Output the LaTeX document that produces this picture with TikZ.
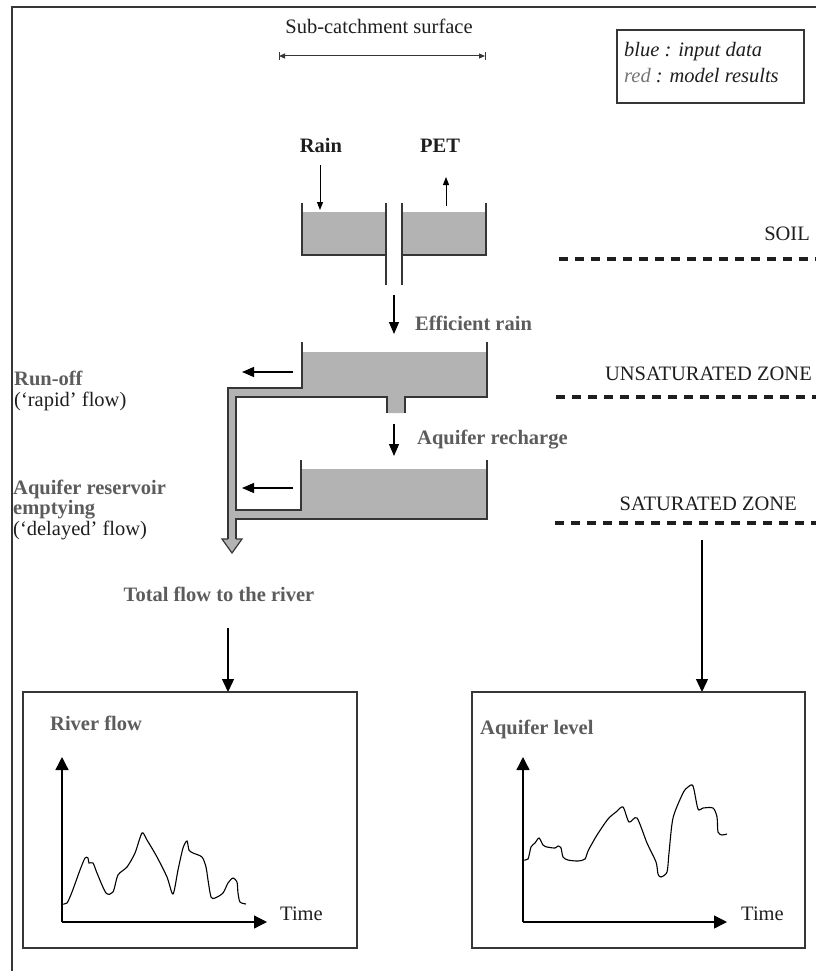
\documentclass[tikz,border=0pt]{standalone}
\usepackage{fontspec}
\setmainfont{Liberation Serif}
\usetikzlibrary{arrows.meta}
\definecolor{water}{HTML}{B3B3B3}
\definecolor{edge}{HTML}{363636}
\definecolor{lbl}{HTML}{5C5C5C}
\definecolor{ink}{HTML}{1E1E1E}
\begin{document}
\begin{tikzpicture}[x=1pt,y=-1pt,
  every node/.style={inner sep=0pt, text=ink, font=\fontsize{20.5}{21}\selectfont},
  lab/.style={text=lbl, font=\fontsize{20.5}{21}\selectfont\bfseries},
  darklab/.style={text=ink, font=\fontsize{20.5}{21}\selectfont\bfseries},
  frameline/.style={draw=edge, line width=1.6pt},
  tankline/.style={draw=edge, line width=1.3pt},
  flowarrow/.style={draw=black, line width=1.2pt, -{Triangle[width=10pt,length=12pt]}},
  smallarrow/.style={draw=black, line width=1pt, -{Triangle[width=6pt,length=8pt]}},
  bigarrow/.style={draw=black, line width=1.3pt, -{Triangle[width=12pt,length=13pt]}},
  axis/.style={draw=black, line width=1.3pt, -{Triangle[width=13pt,length=13pt]}},
  curve/.style={draw=black, line width=1.1pt},
  zoneline/.style={draw=ink, line width=3.6pt, dash pattern=on 9pt off 7pt},
  panel/.style={draw=edge, line width=1.4pt},
]
\useasboundingbox (0,0) rectangle (816,971);

% outer frame (left and top edges)
\draw[frameline] (12,971) -- (12,7) -- (816,7);

% sub-catchment width
\node[anchor=base] (subtitle) at (379,34) {Sub-catchment surface};
\coordinate (dimL) at (279,56);
\coordinate (dimR) at (485,56);
\draw[draw=edge, line width=1pt, {Triangle[width=5pt,length=6pt]}-{Triangle[width=5pt,length=6pt]}] (dimL) -- (dimR);
\draw[draw=edge, line width=1pt] (dimL) ++(0,-4) -- ++(0,8);
\draw[draw=edge, line width=1pt] (dimR) ++(0,-4) -- ++(0,8);

% legend
\draw[panel] (617,30) rectangle (804,103);
\node[anchor=base west, font=\fontsize{20.5}{21}\selectfont\itshape] (legblue) at (624,57) {blue : input data};
\node[anchor=base west, font=\fontsize{20.5}{21}\selectfont\itshape] (legred) at (624,83) {\textcolor{lbl!85}{red} : model results};

% zone labels and boundaries
\node[anchor=base east] (soil) at (810,240) {SOIL};
\draw[zoneline] (559,259) -- (816,259);
\node[anchor=base east] (unsat) at (812,380) {UNSATURATED ZONE};
\draw[zoneline] (556,397) -- (816,397);
\node[anchor=base east] (sat) at (797,510) {SATURATED ZONE};
\draw[zoneline] (555,523) -- (816,523);

% soil reservoir
\node[darklab, anchor=base] (rain) at (321,153) {Rain};
\node[darklab, anchor=base] (pet) at (440,153) {PET};
\fill[water] (302,212) rectangle (386,255);
\fill[water] (402,212) rectangle (486,255);
\draw[tankline] (302,203) -- (302,255) -- (386,255);
\draw[tankline] (386,203) -- (386,285);
\draw[tankline] (402,203) -- (402,285);
\draw[tankline] (402,255) -- (486,255) -- (486,203);
\coordinate (rainS) at (320,165);
\coordinate (rainE) at (320,210);
\draw[smallarrow] (rainS) -- (rainE);
\coordinate (petS) at (446,206);
\coordinate (petE) at (446,177);
\draw[smallarrow] (petS) -- (petE);

% efficient rain
\coordinate (effS) at (394,295);
\coordinate (effE) at (394,334);
\draw[flowarrow] (effS) -- (effE);
\node[lab, anchor=base west] (eff) at (415,330) {Efficient rain};

% unsaturated and saturated reservoirs with the outflow pipe
\fill[water] (302,352) -- (487,352) -- (487,397) -- (405,397) -- (405,413) -- (387,413)
  -- (387,397) -- (236,397) -- (236,510) -- (301,510) -- (301,469) -- (487,469)
  -- (487,519) -- (236,519) -- (236,539) -- (228,539) -- (228,388) -- (302,388) -- cycle;
\draw[tankline] (302,342) -- (302,388) -- (228,388) -- (228,539);
\draw[tankline] (487,342) -- (487,397) -- (405,397) -- (405,413);
\draw[tankline] (387,413) -- (387,397) -- (236,397) -- (236,510) -- (301,510) -- (301,460);
\draw[tankline] (487,460) -- (487,519) -- (236,519) -- (236,539);
\filldraw[fill=water, draw=edge, line width=1.2pt, line join=miter]
  (228,539) -- (222,539) -- (232,553) -- (242,539) -- (236,539);

% run-off
\coordinate (runS) at (293,372);
\coordinate (runE) at (242,372);
\draw[flowarrow] (runS) -- (runE);
\node[lab, anchor=base west] (runoff) at (14,385) {Run-off};
\node[anchor=base west] (rapid) at (14,406) {(‘rapid’ flow)};

% aquifer recharge
\coordinate (rechS) at (394,424);
\coordinate (rechE) at (394,456);
\draw[flowarrow] (rechS) -- (rechE);
\node[lab, anchor=base west] (rech) at (417,444) {Aquifer recharge};

% delayed flow
\coordinate (delS) at (293,488);
\coordinate (delE) at (242,488);
\draw[flowarrow] (delS) -- (delE);
\node[lab, anchor=base west] (aqres) at (13,494) {Aquifer reservoir};
\node[lab, anchor=base west] (empty) at (13,514) {emptying};
\node[anchor=base west] (delayed) at (13,535) {(‘delayed’ flow)};

% total flow to the river
\node[lab, anchor=base] (total) at (219,601) {Total flow to the river};
\coordinate (totS) at (228,628);
\draw[bigarrow] (totS) -- (228,692);

% river flow panel
\draw[panel] (23,692) rectangle (357,948);
\node[lab, anchor=base west] (riverlab) at (50,730) {River flow};
\coordinate (rO) at (62,922);
\coordinate (rY) at (62,757);
\coordinate (rX) at (267,922);
\draw[axis] (rO) -- (rY);
\draw[axis] (rO) -- (rX);
\node[anchor=base west] (rtime) at (280,920) {Time};
\draw[curve] plot[smooth, tension=0.45] coordinates {
  (62,904) (67,903) (72,892) (80,870) (85,858) (88,858) (89,863) (93,863) (97,873)
  (106,893) (113,892) (118,875) (127,867) (135,853) (142,833) (147,840) (157,857)
  (167,877) (173,894) (178,870) (183,848) (187,841) (189,850) (193,853) (202,857)
  (206,867) (208,880) (211,897) (215,898) (223,893) (228,883) (233,878) (237,882)
  (238,893) (240,902) (246,904)};

% aquifer level panel
\coordinate (satS) at (702,540);
\draw[bigarrow] (satS) -- (702,692);
\draw[panel] (472,692) rectangle (805,948);
\node[lab, anchor=base west] (aqlab) at (480,734) {Aquifer level};
\coordinate (aO) at (523,922);
\coordinate (aY) at (523,757);
\coordinate (aX) at (727,922);
\draw[axis] (aO) -- (aY);
\draw[axis] (aO) -- (aX);
\node[anchor=base west] (atime) at (741,920) {Time};
\draw[curve] plot[smooth, tension=0.45] coordinates {
  (523,860) (528,859) (531,847) (535,843) (539,838) (543,845) (547,847) (555,848)
  (558,846) (561,848) (563,857) (568,860) (578,861) (585,859) (588,851) (597,835)
  (608,819) (616,812) (623,807) (629,822) (637,818) (647,843) (656,862) (658,874)
  (661,877) (667,872) (669,853) (673,818) (683,793) (688,787) (693,786) (698,809)
  (703,808) (713,808) (717,817) (718,832) (722,835) (727,834)};
\end{tikzpicture}
\end{document}
